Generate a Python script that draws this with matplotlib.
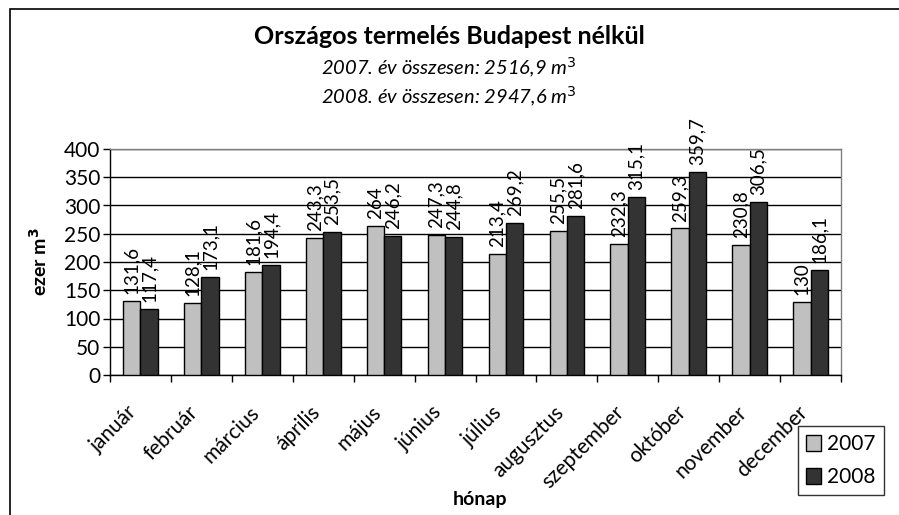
import matplotlib
matplotlib.use("Agg")
import matplotlib.pyplot as plt
from matplotlib.patches import Rectangle
import numpy as np

plt.rcParams['font.family'] = ['Lato', 'DejaVu Sans']

honapok = ['január', 'február', 'március', 'április', 'május', 'június',
           'július', 'augusztus', 'szeptember', 'október', 'november', 'december']
ev2007 = [131.6, 128.1, 181.6, 243.3, 264, 247.3, 213.4, 255.5, 232.3, 259.3, 230.8, 130]
ev2008 = [117.4, 173.1, 194.4, 253.5, 246.2, 244.8, 269.2, 281.6, 315.1, 359.7, 306.5, 186.1]
y_ticks = [0, 50, 100, 150, 200, 250, 300, 350, 400]


def fmt(v):
    # Hungarian decimal comma, no decimals for whole numbers
    if float(v).is_integer():
        return str(int(v))
    return ('%.1f' % v).replace('.', ',')


fig = plt.figure(figsize=(8.99, 5.15), dpi=100)
ax = fig.add_axes([110 / 899, 1 - 375 / 515, (841 - 110) / 899, (375 - 149) / 515])

# outer chart frame
fig.patches.append(Rectangle((10 / 899, -0.1), 1.2, 1 - 9 / 515 + 0.1,
                             transform=fig.transFigure, fill=False,
                             edgecolor='black', linewidth=1.2))

x = np.arange(len(honapok))
w = 0.285
b1 = ax.bar(x - w / 2, ev2007, w, color='#c0c0c0', edgecolor='black', linewidth=1, label='2007', zorder=3)
b2 = ax.bar(x + w / 2, ev2008, w, color='#333333', edgecolor='black', linewidth=1, label='2008', zorder=3)

for bars, vals in ((b1, ev2007), (b2, ev2008)):
    for r, v in zip(bars, vals):
        ax.annotate(fmt(v), (r.get_x() + r.get_width() / 2, v), xytext=(0, 5),
                    textcoords='offset points', rotation=90, ha='center',
                    va='bottom', fontsize=13.5, zorder=4, annotation_clip=False)

ax.set_xlim(-0.5, len(honapok) - 0.5)
ax.set_ylim(0, 400)
ax.set_yticks(y_ticks)
ax.tick_params(axis='y', labelsize=15, length=5, width=1, pad=2)
ax.yaxis.grid(True, color='black', linewidth=1, zorder=0)
ax.set_axisbelow(True)

ax.set_xticks(np.arange(-0.5, len(honapok), 1))
ax.set_xticklabels([])
ax.tick_params(axis='x', length=5, width=1)
for i, name in enumerate(honapok):
    ax.text(i - 0.22, -48, name, rotation=45, ha='right', va='top',
            rotation_mode='anchor', fontsize=15)

for s in ('left', 'bottom'):
    ax.spines[s].set_color('black')
    ax.spines[s].set_linewidth(1)
for s in ('top', 'right'):
    ax.spines[s].set_color('#808080')
    ax.spines[s].set_linewidth(1)

ax.set_ylabel('ezer m$^\\mathbf{3}$', fontsize=14, fontweight='bold', labelpad=10)
fig.text(480 / 899, 1 - 500 / 515, 'hónap', ha='center', va='center',
         fontsize=14, fontweight='bold')

fig.text(449 / 899, 1 - 37 / 515, 'Országos termelés Budapest nélkül',
         ha='center', va='center', fontsize=18, fontweight='bold')
fig.text(449 / 899, 1 - 68 / 515, '2007. év összesen: 2516,9 m$^{3}$',
         ha='center', va='center', fontsize=14.5, style='italic')
fig.text(449 / 899, 1 - 97 / 515, '2008. év összesen: 2947,6 m$^{3}$',
         ha='center', va='center', fontsize=14.5, style='italic')

leg = fig.legend(loc='upper left', bbox_to_anchor=(798 / 899, 1 - 426 / 515),
                 frameon=True, fancybox=False, edgecolor='black', fontsize=15,
                 handlelength=0.7, handleheight=0.8, handletextpad=0.3,
                 borderpad=0.4, labelspacing=0.6, borderaxespad=0)
leg.get_frame().set_linewidth(1)

fig.savefig('out.png', dpi=100)
